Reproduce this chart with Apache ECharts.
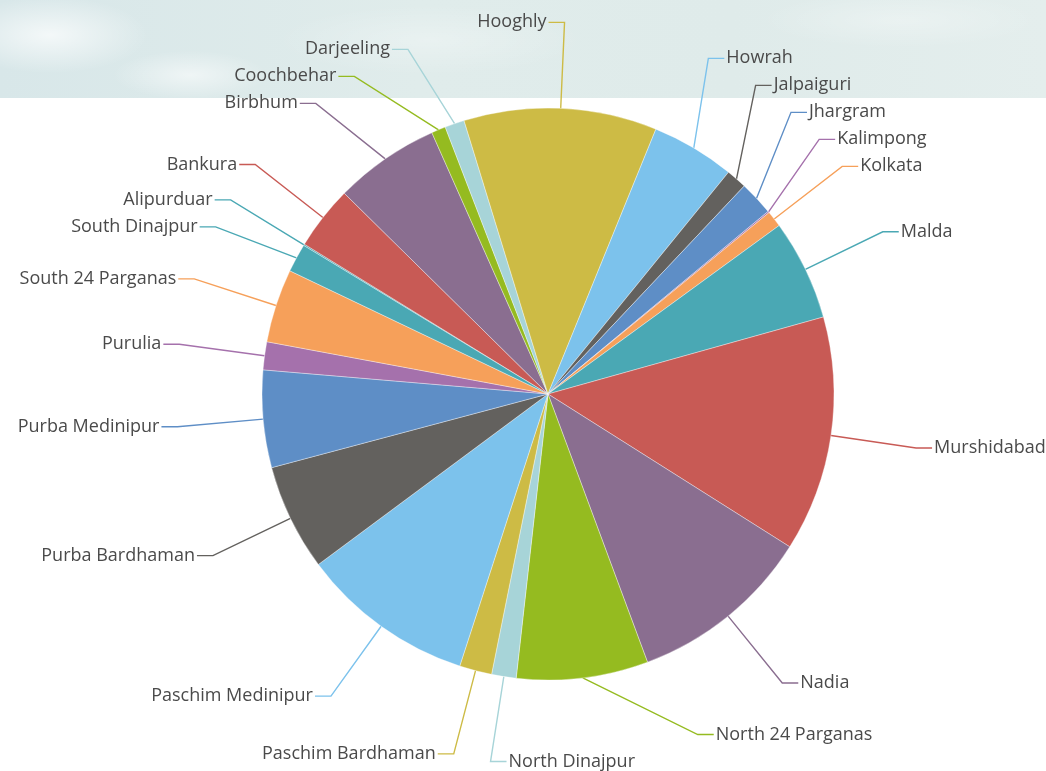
<!DOCTYPE html>
<html>
<head>
<meta charset="utf-8">
<script src="https://cdn.jsdelivr.net/npm/echarts@6/dist/echarts.min.js"></script>
<style>
html,body{margin:0;padding:0;width:1046px;height:771px;overflow:hidden;background:#fff;}
#sky{position:absolute;left:0;top:0;width:1046px;height:98px;
background:
 radial-gradient(ellipse 140px 55px at 50px 35px, rgba(255,255,255,0.7), rgba(255,255,255,0) 70%),
 radial-gradient(ellipse 110px 35px at 190px 75px, rgba(255,255,255,0.55), rgba(255,255,255,0) 70%),
 radial-gradient(ellipse 220px 50px at 430px 40px, rgba(255,255,255,0.3), rgba(255,255,255,0) 70%),
 radial-gradient(ellipse 200px 40px at 900px 20px, rgba(255,255,255,0.3), rgba(255,255,255,0) 70%),
 linear-gradient(90deg,#d8e7e9 0%,#e0eceb 40%,#dfebea 70%,#e4eeed 100%);}
#main{position:absolute;left:0;top:0;width:1046px;height:771px;}
</style>
</head>
<body>
<div id="sky"></div>
<div id="main"></div>
<script>
const districts = ['Alipurduar','Bankura','Birbhum','Coochbehar','Darjeeling','Hooghly','Howrah','Jalpaiguri','Jhargram','Kalimpong','Kolkata','Malda','Murshidabad','Nadia','North 24 Parganas','North Dinajpur','Paschim Bardhaman','Paschim Medinipur','Purba Bardhaman','Purba Medinipur','Purulia','South 24 Parganas','South Dinajpur'];
const values = [0.3,13,21.5,2.9,4,39.3,17,4.2,7,0.3,3.3,20.5,48,37.4,26.8,5,6.6,35.5,21.7,19.8,5.7,15,5.8];
const palette = ['#4aa8b4','#c85a55','#8a6e90','#95bb20','#a7d4d8','#cdbb45','#7cc2ec','#63615e','#5e8ec6','#a571ac','#f6a05a'];

// layout / style settings
const CX = 548, CY = 394, RADIUS = 286;
const START_ANGLE = 148.7;          // echarts convention (deg, ccw from 3 o'clock)
const LABEL_R = 372;                // radius of label elbows
const SEG2 = 16, GAP_TEXT = 2, LINE_GAP = 27;
const SPLIT = 11.5;                 // side split angle (clockwise from top)

// compute label positions from the data (clockwise angle from 12 o'clock)
const total = values.reduce((a, b) => a + b, 0);
const startCw = 90 - START_ANGLE;
let acc = 0;
const info = values.map((v, i) => {
  const mid = startCw + (acc + v / 2) / total * 360;
  acc += v;
  const th = ((mid % 360) + 360) % 360;
  const rad = th * Math.PI / 180;
  const rel = ((th - SPLIT) % 360 + 360) % 360;
  return {
    i, th, rel, right: rel < 180,
    rim: [CX + RADIUS * Math.sin(rad), CY - RADIUS * Math.cos(rad)],
    nat: [CX + LABEL_R * Math.sin(rad), CY - LABEL_R * Math.cos(rad)],
    sgn: Math.sin(rad) >= 0 ? 1 : -1
  };
});
function place(list, isRight) {
  list.sort((a, b) => b.rel - a.rel);
  let prev = null;
  list.forEach(o => {
    let y = o.nat[1];
    let pushed = false;
    if (prev !== null) {
      if (isRight && y > prev - LINE_GAP) { y = prev - LINE_GAP; pushed = true; }
      if (!isRight && y < prev + LINE_GAP) { y = prev + LINE_GAP; pushed = true; }
    }
    let x = o.nat[0];
    if (pushed) {
      const dy = y - CY;
      const s = isRight ? 1 : -1;
      x = CX + s * Math.sqrt(Math.max(0, LABEL_R * LABEL_R - dy * dy));
    }
    o.elbow = [x, y];
    prev = y;
  });
}
place(info.filter(o => o.right), true);
place(info.filter(o => !o.right), false);

const chart = echarts.init(document.getElementById('main'));
chart.setOption({
  animation: false,
  backgroundColor: 'transparent',
  color: palette,
  series: [{
    type: 'pie',
    center: [CX, CY],
    radius: [0, RADIUS],
    startAngle: START_ANGLE,
    clockwise: true,
    minAngle: 0,
    avoidLabelOverlap: true,
    itemStyle: {borderColor: 'rgba(255,255,255,0.6)', borderWidth: 0.6},
    label: {color: '#4a4a4a', fontFamily: 'Open Sans', fontSize: 18, overflow: 'none'},
    labelLine: {length: 85, length2: 16, lineStyle: {width: 1.4}},
    labelLayout: function (params) {
      const o = info[params.dataIndex];
      const dir = o.right ? 1 : -1;
      const end = [o.elbow[0] + dir * SEG2, o.elbow[1]];
      return {
        x: end[0] + dir * GAP_TEXT,
        y: o.elbow[1],
        align: o.right ? 'left' : 'right',
        verticalAlign: 'middle',
        labelLinePoints: [o.rim, o.elbow, end]
      };
    },
    emphasis: {disabled: true},
    data: districts.map((n, i) => ({name: n, value: values[i]}))
  }]
});
</script>
</body>
</html>
